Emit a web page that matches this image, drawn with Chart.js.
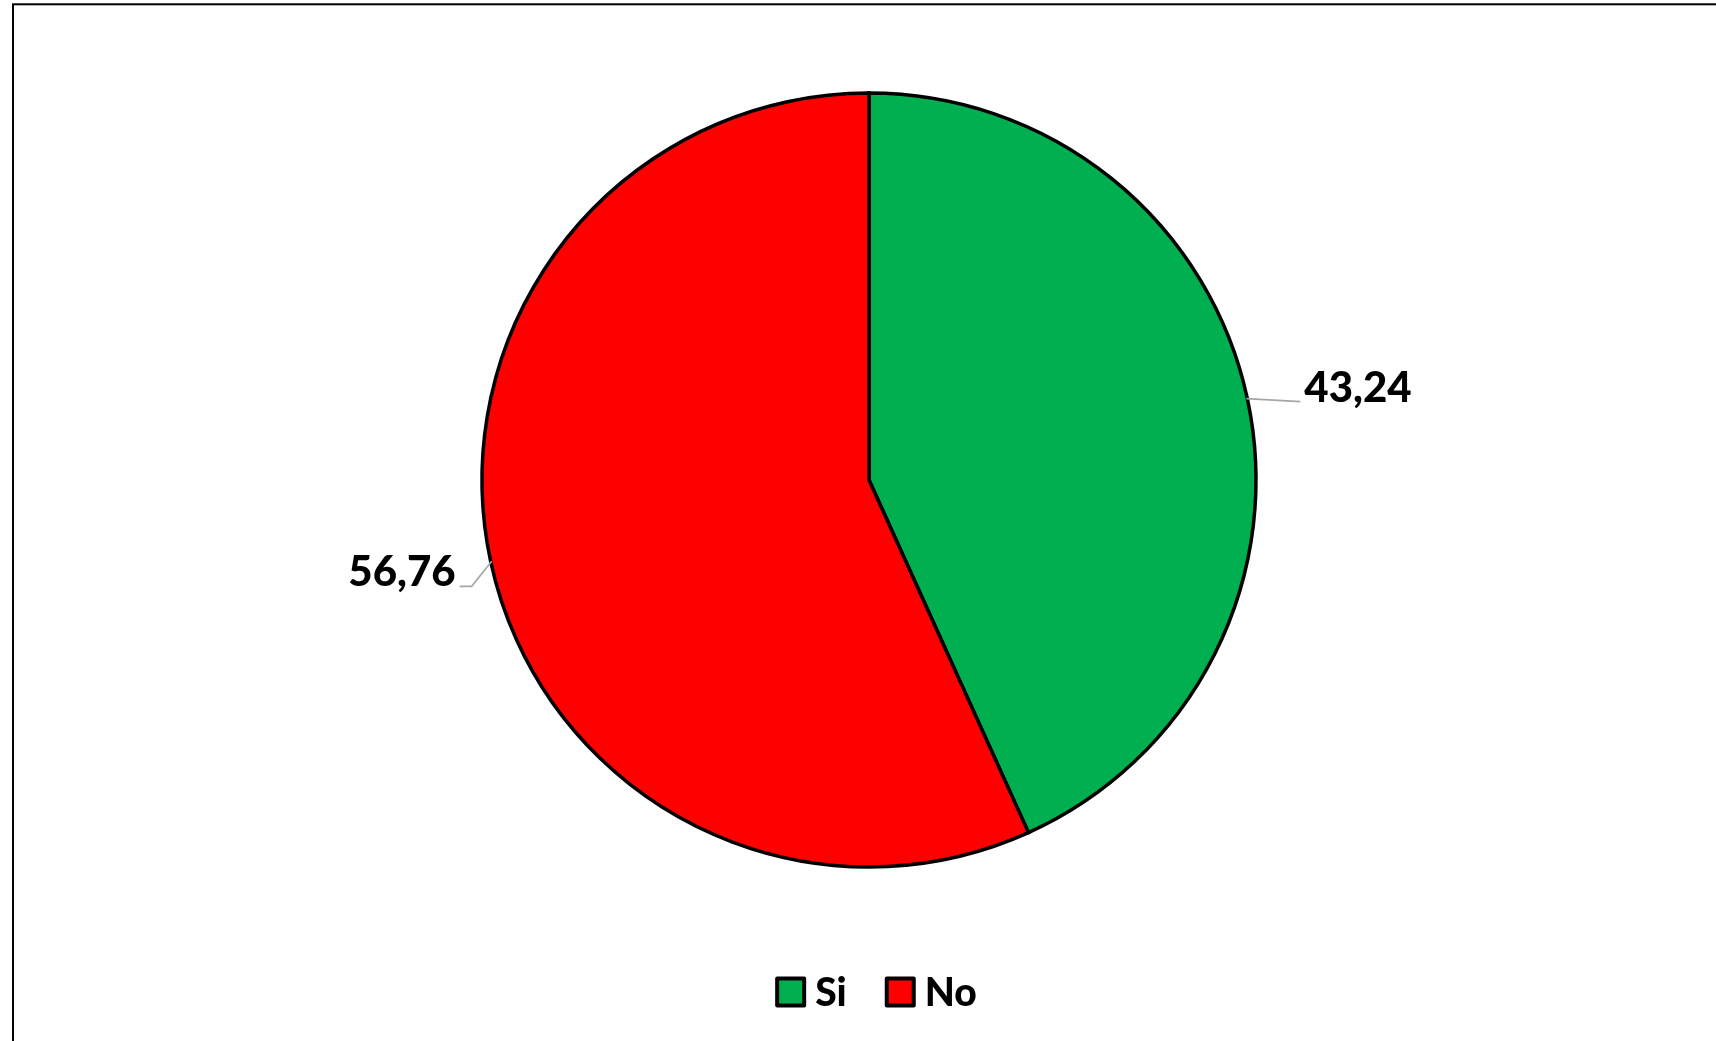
<!DOCTYPE html>
<html>
<head>
<meta charset="utf-8">
<script src="https://cdn.jsdelivr.net/npm/chart.js@4.4.0/dist/chart.umd.min.js"></script>
<style>
html,body{margin:0;padding:0;background:#fff;overflow:hidden;}
#wrap{position:relative;width:1716px;height:1041px;}
</style>
</head>
<body>
<div id="wrap"><canvas id="c" width="1716" height="1041"></canvas></div>
<script>
const categories = ["Si", "No"];
const values = [43.24, 56.76];
const valueLabels = ["43,24", "56,76"];
const colors = ["#00B050", "#FF0000"];

const FONT = "Lato, 'Noto Sans', sans-serif";
const WEIGHT = "900";

const decor = {
  id: 'decor',
  beforeDraw(chart) {
    const ctx = chart.ctx;
    ctx.save();
    ctx.fillStyle = '#fff';
    ctx.fillRect(0, 0, chart.width, chart.height);
    ctx.strokeStyle = '#000';
    ctx.lineWidth = 2;
    ctx.strokeRect(13, 4.3, 1800, 1100);
    ctx.restore();
  },
  afterDraw(chart) {
    const ctx = chart.ctx;
    const meta = chart.getDatasetMeta(0);
    ctx.save();
    meta.data.forEach((arc, i) => {
      const p = arc.getProps(['x', 'y', 'startAngle', 'endAngle', 'outerRadius'], true);
      const mid = (p.startAngle + p.endAngle) / 2;
      const sx = p.x + Math.cos(mid) * (p.outerRadius - 1);
      const sy = p.y + Math.sin(mid) * (p.outerRadius - 1);
      ctx.strokeStyle = '#A6A6A6';
      ctx.lineWidth = 1.6;
      ctx.beginPath();
      ctx.moveTo(sx, sy);
      ctx.font = WEIGHT + " 42px " + FONT;
      ctx.fillStyle = '#000';
      ctx.textBaseline = 'middle';
      if (Math.cos(mid) >= 0) {
        const ex = sx + 54, ey = sy + 3;
        ctx.lineTo(ex, ey);
        ctx.stroke();
        ctx.textAlign = 'left';
        ctx.fillText(valueLabels[i], ex + 4, ey - 13);
      } else {
        const elx = sx - 20, ely = sy + 25;
        const ex = elx - 12;
        ctx.lineTo(elx, ely);
        ctx.lineTo(ex, ely);
        ctx.stroke();
        ctx.textAlign = 'right';
        ctx.fillText(valueLabels[i], ex - 4, ely - 14);
      }
    });
    // legend
    ctx.font = WEIGHT + " 39px " + FONT;
    const box = 27, gapBT = 11, gapItems = 40;
    const widths = categories.map(c => ctx.measureText(c).width);
    let total = 0;
    categories.forEach((c, i) => { total += box + gapBT + widths[i] + (i < categories.length - 1 ? gapItems : 0); });
    let x = 877 - total / 2;
    const cy = 992;
    categories.forEach((c, i) => {
      ctx.fillStyle = colors[i];
      ctx.fillRect(x, cy - box / 2, box, box);
      ctx.strokeStyle = '#000';
      ctx.lineWidth = 4;
      ctx.lineJoin = 'round';
      ctx.strokeRect(x, cy - box / 2, box, box);
      ctx.fillStyle = '#000';
      ctx.textAlign = 'left';
      ctx.textBaseline = 'middle';
      ctx.fillText(c, x + box + gapBT, cy + 1);
      x += box + gapBT + widths[i] + gapItems;
    });
    ctx.restore();
  }
};

new Chart(document.getElementById('c'), {
  type: 'pie',
  data: {
    labels: categories,
    datasets: [{
      data: values,
      backgroundColor: colors,
      borderColor: '#000',
      borderWidth: 3.5,
      borderJoinStyle: 'miter'
    }]
  },
  options: {
    responsive: false,
    animation: false,
    radius: 387,
    layout: { padding: { left: 22, right: 0, top: 0, bottom: 81 } },
    plugins: {
      legend: { display: false },
      tooltip: { enabled: false }
    }
  },
  plugins: [decor]
});
</script>
</body>
</html>
